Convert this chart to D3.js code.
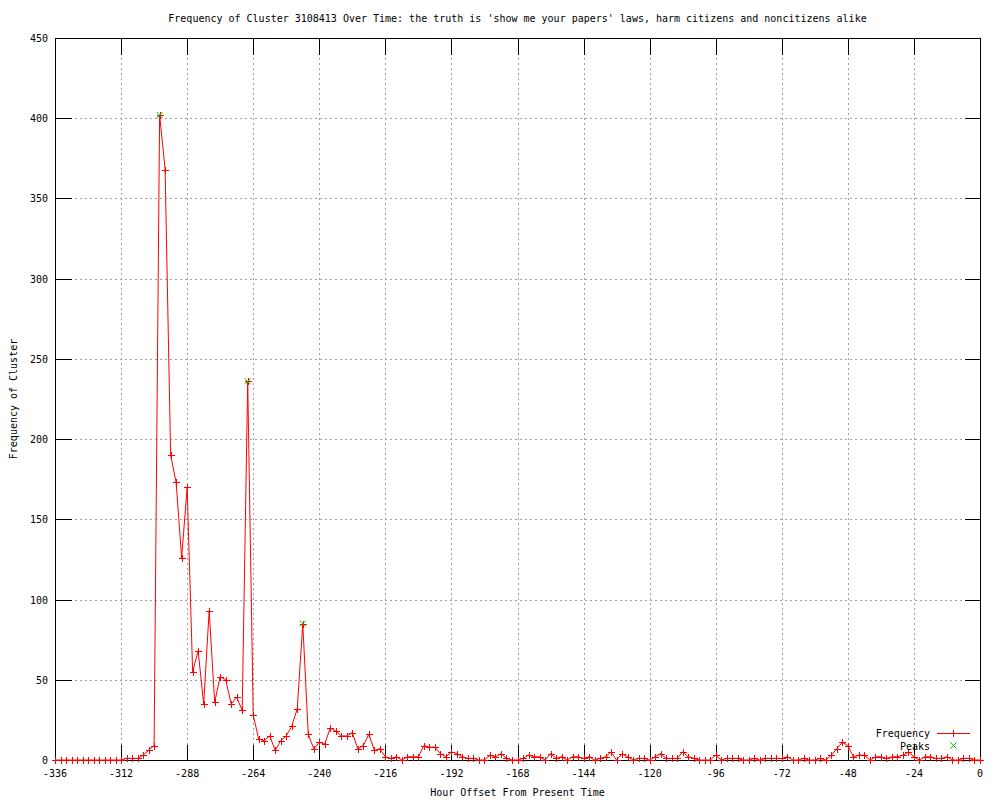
<!DOCTYPE html>
<html>
<head>
<meta charset="utf-8">
<script src="https://cdn.jsdelivr.net/npm/d3@7"></script>
<style>
  body { margin: 0; background: white; }
  text { font-family: "DejaVu Sans Mono", monospace; font-size: 10px; fill: black; }
</style>
</head>
<body>
<div id="container"></div>
<script>
let w = 1000;
let h = 800;
let plotLeft = 55, plotRight = 980, plotTop = 38, plotBottom = 760;

// DATA
let startHour = -336;
let stepHours = 2;
// one value every 2 hours, from -336 to 0
let freq = [
  0,0,0,0,0,0,0,0,0,0,          // -336 .. -318
  0,0,0,1,1,1,3,6,9,402,        // -316 .. -298
  368,190,173,126,170,55,68,35,93,36, // -296 .. -278
  52,50,35,39,31,236,28,13,12,15,     // -276 .. -258
  6,12,15,21,32,85,16,7,11,10,        // -256 .. -238
  20,18,15,15,17,7,9,16,6,7,          // -236 .. -218
  2,1,2,0,2,2,2,9,8,8,                // -216 .. -198
  4,2,5,4,2,1,1,0,0,3,                // -196 .. -178
  2,4,1,0,0,1,3,2,2,0,                // -176 .. -158
  4,1,2,0,2,2,1,2,0,1,                // -156 .. -138
  2,5,0,4,2,0,1,1,0,2,                // -136 .. -118
  4,1,1,1,5,2,1,0,0,0,                // -116 .. -98
  3,0,1,1,1,0,0,1,0,1,                // -96 .. -78
  1,1,1,2,0,0,1,0,0,1,                // -76 .. -58
  0,3,7,11,9,2,3,3,0,2,               // -56 .. -38
  2,1,2,2,3,5,2,0,2,2,                // -36 .. -18
  1,1,2,0,0,1,1,0,0                   // -16 .. 0
];
let peakHours = [-298, -266, -246];

let xTicks = [-336,-312,-288,-264,-240,-216,-192,-168,-144,-120,-96,-72,-48,-24,0];
let yTicks = [0,50,100,150,200,250,300,350,400,450];

let titleText = "Frequency of Cluster 3108413 Over Time: the truth is 'show me your papers' laws, harm citizens and noncitizens alike";

let points = freq.map(function(d,i){
  return {hour: startHour + i*stepHours, value: d};
});
let peaks = points.filter(function(d){
  return peakHours.indexOf(d.hour) != -1;
});

// SVG
let viz = d3.select("#container").append("svg")
    .attr("width", w)
    .attr("height", h)
    .style("display", "block")
    .style("background-color", "white")
;

let xScale = d3.scaleLinear().domain([-336, 0]).range([plotLeft, plotRight]);
let yScale = d3.scaleLinear().domain([0, 450]).range([plotBottom, plotTop]);

// grid
let grid = viz.append("g").attr("class", "grid").attr("shape-rendering", "crispEdges");
grid.selectAll(".vgrid").data(xTicks.slice(1, -1)).enter()
  .append("line")
  .attr("x1", function(d){ return Math.round(xScale(d)) + 0.5; })
  .attr("x2", function(d){ return Math.round(xScale(d)) + 0.5; })
  .attr("y1", plotTop)
  .attr("y2", plotBottom)
  .attr("stroke", "#a0a0a0")
  .attr("stroke-dasharray", "2,3")
;
grid.selectAll(".hgrid").data(yTicks.slice(1, -1)).enter()
  .append("line")
  .attr("x1", plotLeft)
  .attr("x2", plotRight)
  .attr("y1", function(d){ return Math.round(yScale(d)) + 0.5; })
  .attr("y2", function(d){ return Math.round(yScale(d)) + 0.5; })
  .attr("stroke", "#a0a0a0")
  .attr("stroke-dasharray", "2,3")
;

// axes, ticks inward on all four sides
let xBottom = d3.axisTop(xScale).tickValues(xTicks).tickSize(16).tickFormat("");
let xTop = d3.axisBottom(xScale).tickValues(xTicks).tickSize(16).tickFormat("");
let yLeft = d3.axisRight(yScale).tickValues(yTicks).tickSize(16).tickFormat("");
let yRight = d3.axisLeft(yScale).tickValues(yTicks).tickSize(16).tickFormat("");

let axes = viz.append("g").attr("class", "axes").attr("shape-rendering", "crispEdges");
axes.append("g").attr("transform", "translate(0," + (plotBottom + 0.5) + ")").call(xBottom);
axes.append("g").attr("transform", "translate(0," + (plotTop + 0.5) + ")").call(xTop);
axes.append("g").attr("transform", "translate(" + (plotLeft + 0.5) + ",0)").call(yLeft);
axes.append("g").attr("transform", "translate(" + (plotRight + 0.5) + ",0)").call(yRight);
axes.selectAll(".domain").remove();
axes.selectAll("line").attr("stroke", "black");

axes.append("rect")
  .attr("x", plotLeft + 0.5)
  .attr("y", plotTop + 0.5)
  .attr("width", plotRight - plotLeft)
  .attr("height", plotBottom - plotTop)
  .attr("fill", "none")
  .attr("stroke", "black")
;

// tick labels
viz.append("g").selectAll("text").data(xTicks).enter()
  .append("text")
  .attr("x", function(d){ return xScale(d); })
  .attr("y", 777)
  .attr("text-anchor", "middle")
  .text(function(d){ return d; })
;
viz.append("g").selectAll("text").data(yTicks).enter()
  .append("text")
  .attr("x", 48)
  .attr("y", function(d){ return yScale(d) + 4; })
  .attr("text-anchor", "end")
  .text(function(d){ return d; })
;

// titles
viz.append("text")
  .attr("x", (plotLeft + plotRight) / 2)
  .attr("y", 22)
  .attr("text-anchor", "middle")
  .text(titleText)
;
viz.append("text")
  .attr("x", (plotLeft + plotRight) / 2)
  .attr("y", 796)
  .attr("text-anchor", "middle")
  .text("Hour Offset From Present Time")
;
viz.append("text")
  .attr("transform", "translate(17," + ((plotTop + plotBottom) / 2) + ") rotate(-90)")
  .attr("text-anchor", "middle")
  .text("Frequency of Cluster")
;

// frequency line
let lineMaker = d3.line()
  .x(function(d){ return xScale(d.hour); })
  .y(function(d){ return yScale(d.value); })
;
let plot = viz.append("g").attr("class", "plot");
plot.append("path")
  .datum(points)
  .attr("d", lineMaker)
  .attr("fill", "none")
  .attr("stroke", "red")
  .attr("stroke-width", 1)
;

function plus(x, y, s){
  return "M" + (x - s) + "," + y + "H" + (x + s) + "M" + x + "," + (y - s) + "V" + (y + s);
}
function cross(x, y, s){
  return "M" + (x - s) + "," + (y - s) + "L" + (x + s) + "," + (y + s) +
         "M" + (x - s) + "," + (y + s) + "L" + (x + s) + "," + (y - s);
}

plot.selectAll(".pt").data(points).enter()
  .append("path")
  .attr("class", "pt")
  .attr("d", function(d){
    return plus(Math.round(xScale(d.hour)) + 0.5, Math.round(yScale(d.value)) + 0.5, 3.5);
  })
  .attr("stroke", "red")
  .attr("shape-rendering", "crispEdges")
;

plot.selectAll(".peak").data(peaks).enter()
  .append("path")
  .attr("class", "peak")
  .attr("d", function(d){
    return cross(xScale(d.hour), yScale(d.value), 3);
  })
  .attr("stroke", "#00c000")
;

// legend
let legend = viz.append("g").attr("class", "legend");
legend.append("text").attr("x", 930).attr("y", 737).attr("text-anchor", "end").text("Frequency");
legend.append("text").attr("x", 930).attr("y", 750).attr("text-anchor", "end").text("Peaks");
legend.append("line")
  .attr("x1", 937).attr("x2", 970)
  .attr("y1", 733.5).attr("y2", 733.5)
  .attr("stroke", "red")
;
legend.append("path").attr("d", plus(953.5, 733.5, 3.5)).attr("stroke", "red").attr("shape-rendering", "crispEdges");
legend.append("path").attr("d", cross(953.5, 745.5, 3)).attr("stroke", "#00c000");
</script>
</body>
</html>
